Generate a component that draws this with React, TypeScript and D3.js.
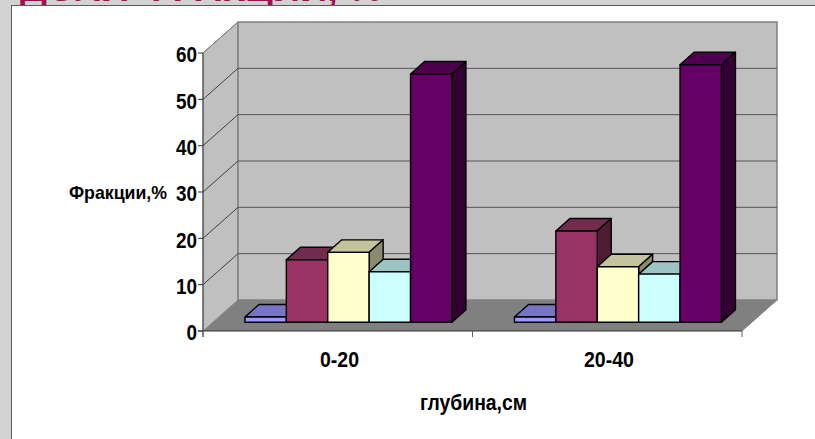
import React from "react";
import * as d3 from "d3";

// Depth classes and fractions, in percent
const depths = ["0-20", "20-40"];
const fractions = ["f1", "f2", "f3", "f4", "f5"];
const valuesTop = [1.15, 13.5, 15.1, 10.9, 53.6];
const valuesBottom = [1.15, 19.7, 12.0, 10.4, 55.6];
const yTicks = [0, 10, 20, 30, 40, 50, 60];

// Face colours per fraction: front, top, side
const frontColors = ["#9999ff", "#993366", "#ffffcc", "#ccffff", "#660066"];
const topColors = ["#7575c4", "#732a4e", "#c4c49c", "#9cc4c4", "#4e004e"];
const sideColors = ["#50508a", "#4f1c36", "#8a8a6e", "#6e8a8a", "#330033"];

const axisLabel = "Фракции,%";
const categoryTitle = "глубина,см";
const slideHeading = "ДОЛЯ ФРАКЦИЙ, %";

const FONT = "'Liberation Sans', Arial, sans-serif";

const WIDTH = 815;
const HEIGHT = 439;
const FLOOR_DX = 35;
const FLOOR_DY = -31;
const BAR_OFFSET_X = 10.7;
const BAR_OFFSET_Y = -8.7;
const BAR_DX = 14;
const BAR_DY = -12.5;

const xScale = d3.scaleBand<string>().domain(depths).range([203, 742]);
const yScale = d3.scaleLinear().domain([0, 60]).range([331, 53]);

const poly = (pts: [number, number][]) => d3.line()(pts) + "Z";

function Bar({ x0, x1, value, i }: { x0: number; x1: number; value: number; i: number }) {
  const base = yScale(0) + BAR_OFFSET_Y;
  const top = yScale(value) + BAR_OFFSET_Y;
  const common = { stroke: "#000", strokeWidth: 1.4, strokeLinejoin: "round" as const };
  return (
    <g>
      <path
        d={poly([[x0, top], [x0 + BAR_DX, top + BAR_DY], [x1 + BAR_DX, top + BAR_DY], [x1, top]])}
        fill={topColors[i]}
        {...common}
      />
      <path
        d={poly([[x1, top], [x1 + BAR_DX, top + BAR_DY], [x1 + BAR_DX, base + BAR_DY], [x1, base]])}
        fill={sideColors[i]}
        {...common}
      />
      <path d={poly([[x0, top], [x1, top], [x1, base], [x0, base]])} fill={frontColors[i]} {...common} />
    </g>
  );
}

export default function App() {
  const [xl, xr] = xScale.range();
  const y0 = yScale(0);
  const yMax = yScale(60);
  const series = [valuesTop, valuesBottom];

  return (
    <svg
      width={WIDTH}
      height={HEIGHT}
      viewBox={`0 0 ${WIDTH} ${HEIGHT}`}
      style={{ position: "fixed", left: 0, top: 0, display: "block" }}
    >
      <rect width={WIDTH} height={HEIGHT} fill="#d2d2d2" />
      <text
        x={20}
        y={1}
        textLength={362}
        lengthAdjust="spacingAndGlyphs"
        fontFamily={FONT}
        fontWeight="bold"
        fontSize={38}
        fill="#a00f50"
      >
        {slideHeading}
      </text>
      <rect x={11.5} y={5.5} width={WIDTH} height={HEIGHT} fill="#fff" stroke="#5a5a5a" strokeWidth={1} />

      {/* Chart box: side wall, back wall and floor */}
      <path
        d={poly([[xl, yMax], [xl + FLOOR_DX, yMax + FLOOR_DY], [xl + FLOOR_DX, y0 + FLOOR_DY], [xl, y0]])}
        fill="#c0c0c0"
        stroke="#808080"
        strokeWidth={1}
      />
      <path
        d={poly([
          [xl + FLOOR_DX, yMax + FLOOR_DY],
          [xr + FLOOR_DX, yMax + FLOOR_DY],
          [xr + FLOOR_DX, y0 + FLOOR_DY],
          [xl + FLOOR_DX, y0 + FLOOR_DY],
        ])}
        fill="#c0c0c0"
        stroke="#808080"
        strokeWidth={1.5}
      />
      <path
        d={poly([[xl, y0], [xl + FLOOR_DX, y0 + FLOOR_DY], [xr + FLOOR_DX, y0 + FLOOR_DY], [xr, y0]])}
        fill="#808080"
      />

      {/* Gridlines run along the side wall, then across the back wall */}
      {yTicks
        .filter((t) => t > 0)
        .map((t) => (
          <g key={t} fill="none">
            <line
              x1={xl}
              y1={yScale(t)}
              x2={xl + FLOOR_DX}
              y2={yScale(t) + FLOOR_DY}
              stroke={t === 60 ? "#808080" : "#404040"}
              strokeWidth={1}
            />
            {t < 60 && (
              <line
                x1={xl + FLOOR_DX}
                y1={yScale(t) + FLOOR_DY}
                x2={xr + FLOOR_DX}
                y2={yScale(t) + FLOOR_DY}
                stroke="#555"
                strokeWidth={1}
              />
            )}
          </g>
        ))}

      {/* Axes and their ticks */}
      <line x1={xl} y1={yMax} x2={xl} y2={y0 + 6} stroke="#404040" strokeWidth={1} />
      <line x1={xl - 5} y1={y0} x2={xr} y2={y0} stroke="#303030" strokeWidth={1.2} />
      <line x1={xr} y1={y0} x2={xr + FLOOR_DX} y2={y0 + FLOOR_DY} stroke="#808080" strokeWidth={1} />
      {yTicks.map((t) => (
        <line key={t} x1={xl - 5} y1={yScale(t)} x2={xl} y2={yScale(t)} stroke="#303030" strokeWidth={1} />
      ))}
      {[xl, xl + xScale.bandwidth(), xr].map((x) => (
        <line key={x} x1={x} y1={y0} x2={x} y2={y0 + 6} stroke="#606060" strokeWidth={1} />
      ))}

      {/* Bars */}
      {depths.map((d, di) => {
        const center = (xScale(d) as number) + xScale.bandwidth() / 2 + BAR_OFFSET_X;
        const inner = d3.scaleBand<string>().domain(fractions).range([center - 103.5, center + 103.5]);
        return (
          <g key={d}>
            {fractions.map((f, i) => (
              <Bar
                key={f}
                i={i}
                x0={inner(f) as number}
                x1={(inner(f) as number) + inner.bandwidth()}
                value={series[di][i]}
              />
            ))}
          </g>
        );
      })}

      {/* Text */}
      {yTicks.map((t) => {
        const w = String(t).length * 10.5;
        return (
          <text
            key={t}
            x={197 - w}
            y={yScale(t) + 9.3}
            textLength={w}
            lengthAdjust="spacingAndGlyphs"
            fontFamily={FONT}
            fontWeight="bold"
            fontSize={22.5}
            fill="#000"
          >
            {t}
          </text>
        );
      })}
      {depths.map((d, i) => (
        <text
          key={d}
          x={i === 0 ? 320 : 584}
          y={367}
          textLength={i === 0 ? 39 : 50}
          lengthAdjust="spacingAndGlyphs"
          fontFamily={FONT}
          fontWeight="bold"
          fontSize={21.5}
          fill="#000"
        >
          {d}
        </text>
      ))}
      <text
        x={69}
        y={199}
        textLength={98}
        lengthAdjust="spacingAndGlyphs"
        fontFamily={FONT}
        fontWeight="bold"
        fontSize={19}
        fill="#000"
      >
        {axisLabel}
      </text>
      <text
        x={420}
        y={410}
        textLength={107}
        lengthAdjust="spacingAndGlyphs"
        fontFamily={FONT}
        fontWeight="bold"
        fontSize={22}
        fill="#000"
      >
        {categoryTitle}
      </text>
    </svg>
  );
}
